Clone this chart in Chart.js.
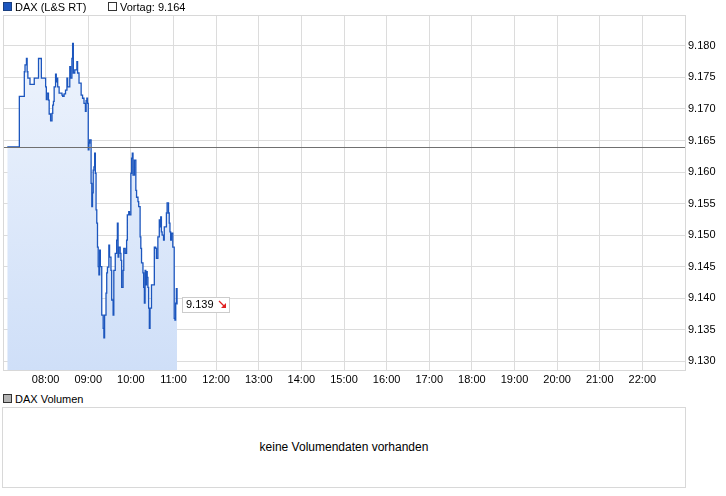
<html>
  <head>
    <script src="https://cdn.jsdelivr.net/npm/chart.js@4.4.0/dist/chart.umd.min.js"></script>
    <style>
      body { margin: 0; background: #fff; font-family: "Liberation Sans", Arial, sans-serif; font-size: 11px; color: #000; }
      #wrap { position: relative; width: 726px; height: 496px; overflow: hidden; }
      #chart { position: absolute; left: 0; top: 0; }
      .lg { position: absolute; white-space: nowrap; line-height: 12px; }
      .sq { position: absolute; width: 7px; height: 7px; border: 1px solid #333; }
      #volbox { position: absolute; left: 2px; top: 407px; width: 682px; height: 79px; border: 1px solid #d8d8d8; text-align: center; line-height: 79px; font-size: 12px; }
    </style>
  </head>
  <body>
    <div id="wrap">
      <canvas id="chart" width="726" height="392"></canvas>
      <div class="sq" style="left:3px;top:2px;background:#1c56be;border-color:#1a3f80"></div>
      <div class="lg" style="left:15px;top:1px">DAX (L&amp;S RT)</div>
      <div class="sq" style="left:108px;top:2px;background:#fff"></div>
      <div class="lg" style="left:120px;top:1px">Vortag: 9.164</div>
      <div class="sq" style="left:3px;top:394px;background:#b4b4b4"></div>
      <div class="lg" style="left:15px;top:393px">DAX Volumen</div>
      <div id="volbox">keine Volumendaten vorhanden</div>
    </div>
    <script>
const PREV_CLOSE = 9164;
const X_MIN = 7 * 60, X_MAX = 23 * 60;
const Y_MIN = 9128.6, Y_MAX = 9184.9;

// hour ticks on the time axis, price ticks on the right
const hourTicks = [8, 9, 10, 11, 12, 13, 14, 15, 16, 17, 18, 19, 20, 21, 22];
const priceTicks = [9130, 9135, 9140, 9145, 9150, 9155, 9160, 9165, 9170, 9175, 9180];

// intraday quotes
const times = [
  "07:06","07:23","07:30","07:31","07:33","07:34","07:35","07:38","07:44","07:50","07:54",
  "08:00","08:01","08:02","08:04","08:05","08:07","08:09","08:10","08:11","08:12","08:14",
  "08:15","08:16","08:17","08:19","08:23","08:24","08:26","08:28","08:30","08:31","08:34",
  "08:35","08:37","08:38","08:39","08:41","08:44","08:45","08:47","08:50","08:52","08:54",
  "08:56","08:57","08:58","08:59","09:00","09:01","09:02","09:04","09:05","09:06","09:07",
  "09:08","09:09","09:10","09:11","09:12","09:13","09:14","09:15","09:16","09:17","09:19",
  "09:21","09:22","09:23","09:25","09:26","09:27","09:29","09:30","09:32","09:33","09:35",
  "09:36","09:38","09:40","09:41","09:42","09:43","09:45","09:46","09:47","09:49","09:50",
  "09:52","09:54","09:55","09:57","09:58","10:00","10:01","10:02","10:03","10:05","10:07",
  "10:08","10:10","10:11","10:13","10:14","10:15","10:17","10:18","10:19","10:20","10:21",
  "10:22","10:23","10:24","10:25","10:26","10:27","10:29","10:33","10:35","10:36","10:38",
  "10:40","10:41","10:42","10:43","10:44","10:46","10:47","10:50","10:51","10:53","10:54",
  "10:55","10:56","10:57","10:59","11:01","11:02","11:03","11:04","11:05"
];
const prices = [
  9164.0,9172.0,9175.9,9177.0,9178.0,9175.9,9174.9,9173.9,9174.9,9178.0,9174.9,
  9173.5,9171.5,9172.5,9171.4,9169.2,9168.1,9169.3,9170.6,9171.2,9173.5,9175.5,
  9174.3,9174.9,9173.5,9172.5,9172.2,9172.0,9172.4,9173.0,9174.9,9173.5,9176.7,
  9174.9,9178.0,9180.4,9175.7,9176.2,9177.5,9175.7,9174.1,9172.2,9171.7,9170.9,
  9169.6,9171.3,9171.7,9170.9,9163.5,9164.6,9165.1,9158.2,9154.5,9156.7,9160.3,
  9160.8,9163.0,9159.8,9154.0,9151.9,9148.1,9145.0,9143.7,9147.6,9145.0,9137.3,
  9135.2,9133.7,9137.3,9140.8,9144.0,9144.9,9148.4,9146.5,9144.4,9139.7,9137.3,
  9144.4,9147.1,9149.2,9151.9,9146.5,9148.1,9147.1,9146.0,9141.7,9144.4,9147.9,
  9147.1,9149.2,9153.2,9153.7,9153.2,9159.8,9162.2,9163.0,9159.5,9161.9,9157.1,
  9156.0,9155.3,9154.5,9149.7,9147.9,9145.6,9144.0,9141.7,9139.2,9144.4,9142.1,
  9144.2,9143.3,9141.7,9138.4,9135.2,9138.4,9142.1,9148.1,9147.9,9146.3,9149.7,
  9152.4,9151.3,9152.9,9150.5,9150.0,9149.2,9151.3,9153.5,9155.1,9153.5,9151.9,
  9150.5,9149.2,9150.3,9148.1,9136.8,9136.5,9139.2,9141.5,9139.0
];

function toMin(s) {
  var p = s.split(":");
  return +p[0] * 60 + +p[1];
}
function fmtPrice(v) {
  var r = Math.round(v);
  return Math.floor(r / 1000) + "." + String(r % 1000).padStart(3, "0");
}
function fmtTime(m) {
  return String(Math.floor(m / 60)).padStart(2, "0") + ":" + String(m % 60).padStart(2, "0");
}

var points = times.map((t, i) => ({x: toMin(t), y: prices[i]}));

// prev close line, frame and last price box
const overlay = {
  id: "overlay",
  afterDatasetsDraw(chart) {
    var ctx = chart.ctx, ca = chart.chartArea;
    var xs = chart.scales.x, ys = chart.scales.y;
    ctx.save();
    var py = Math.round(ys.getPixelForValue(PREV_CLOSE)) + 0.5;
    ctx.strokeStyle = "#707070";
    ctx.lineWidth = 1;
    ctx.beginPath();
    ctx.moveTo(ca.left, py);
    ctx.lineTo(ca.right, py);
    ctx.stroke();

    ctx.strokeStyle = "#d8d8d8";
    ctx.strokeRect(ca.left + 0.5, ca.top + 0.5, ca.right - ca.left, ca.bottom - ca.top);

    var last = points[points.length - 1];
    var lx = xs.getPixelForValue(last.x), ly = Math.round(ys.getPixelForValue(last.y));
    var bx = Math.round(lx) + 5, by = ly - 7;
    ctx.fillStyle = "#fff";
    ctx.fillRect(bx, by, 47, 15);
    ctx.strokeStyle = "#cccccc";
    ctx.strokeRect(bx + 0.5, by + 0.5, 47, 15);
    ctx.fillStyle = "#000";
    ctx.font = '11px "Liberation Sans", Arial, sans-serif';
    ctx.textBaseline = "middle";
    ctx.fillText(fmtPrice(last.y), bx + 4, ly + 1);
    // red down arrow
    ctx.strokeStyle = "#e02020";
    ctx.fillStyle = "#e02020";
    ctx.lineWidth = 1.2;
    ctx.beginPath();
    ctx.moveTo(bx + 37, ly - 3);
    ctx.lineTo(bx + 42, ly + 2);
    ctx.stroke();
    ctx.beginPath();
    ctx.moveTo(bx + 44, ly + 4);
    ctx.lineTo(bx + 44, ly - 1);
    ctx.lineTo(bx + 39, ly + 4);
    ctx.closePath();
    ctx.fill();
    ctx.restore();
  }
};

new Chart(document.getElementById("chart"), {
  type: "line",
  data: {
    datasets: [{
      label: "DAX (L&S RT)",
      data: points,
      stepped: true,
      borderColor: "#1c56be",
      borderWidth: 1.3,
      pointRadius: 0,
      fill: "start",
      backgroundColor: c => {
        var ca = c.chart.chartArea;
        if (!ca) return "#e3ecfb";
        var g = c.chart.ctx.createLinearGradient(0, ca.top, 0, ca.bottom);
        g.addColorStop(0, "#f0f5fd");
        g.addColorStop(1, "#cfdff8");
        return g;
      }
    }]
  },
  options: {
    responsive: false,
    animation: false,
    layout: {padding: {left: 3, top: 15, right: 0, bottom: 0}},
    plugins: {legend: {display: false}, tooltip: {enabled: false}},
    scales: {
      x: {
        type: "linear",
        min: X_MIN,
        max: X_MAX,
        afterBuildTicks: s => { s.ticks = hourTicks.map(h => ({value: h * 60})); },
        afterFit: s => { s.height = 22; },
        grid: {color: "#dcdcdc", drawTicks: false},
        border: {display: false},
        ticks: {color: "#000", padding: 3, maxRotation: 0, autoSkip: false,
          font: {family: "Liberation Sans", size: 11},
          callback: v => fmtTime(v)}
      },
      y: {
        position: "right",
        min: Y_MIN,
        max: Y_MAX,
        afterBuildTicks: s => { s.ticks = priceTicks.map(v => ({value: v})); },
        afterFit: s => { s.width = 41; },
        grid: {color: "#dcdcdc", drawTicks: false},
        border: {display: false},
        ticks: {color: "#000", padding: 3, autoSkip: false,
          font: {family: "Liberation Sans", size: 11},
          callback: v => fmtPrice(v)}
      }
    }
  },
  plugins: [overlay]
});
    </script>
  </body>
</html>
